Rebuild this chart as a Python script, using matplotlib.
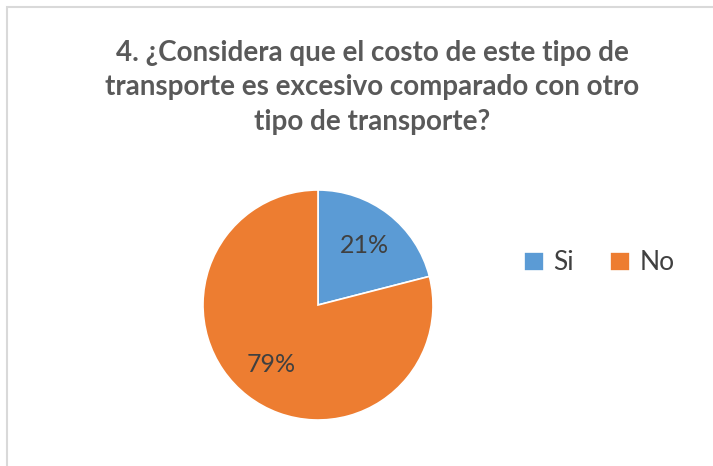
import matplotlib
matplotlib.use("Agg")
import matplotlib.pyplot as plt
from matplotlib.patches import Rectangle

# datos de la encuesta
categorias = ["Si", "No"]
porcentajes = [21, 79]
colores = ["#5B9BD5", "#ED7D31"]
titulo = "4. ¿Considera que el costo de este tipo de\ntransporte es excesivo comparado con otro\ntipo de transporte?"

W, H = 713, 466
fig = plt.figure(figsize=(W / 100, H / 100), dpi=100)
plt.rcParams['font.family'] = ['Lato', 'DejaVu Sans']

# marco gris del grafico
fig.patches.append(Rectangle((7 / W, -0.1), 1.2, (H - 7) / H + 0.1, transform=fig.transFigure,
                             facecolor="white", edgecolor="#D9D9D9", linewidth=1.5, zorder=-5))

cx, cy, r = 318, 305, 115
ax = fig.add_axes([(cx - r) / W, (H - cy - r) / H, 2 * r / W, 2 * r / H])
wedges, textos, pcts = ax.pie(porcentajes, colors=colores, startangle=90, counterclock=False,
                              autopct='%1.0f%%', pctdistance=0.66, radius=1,
                              wedgeprops=dict(edgecolor="white", linewidth=1.2),
                              textprops=dict(fontsize=18, color="#404040"))
ax.set_xlim(-1, 1)
ax.set_ylim(-1, 1)
ax.set_aspect('equal')
ax.axis('off')

fig.text(372 / W, 1 - 40 / H, titulo, ha='center', va='top', fontsize=20, fontweight='bold',
         color="#595959", linespacing=1.4)

fig.legend(wedges, categorias, loc='center left', bbox_to_anchor=(500 / W, 1 - 263 / H),
           ncol=2, frameon=False, fontsize=19, labelcolor="#404040",
           handlelength=0.75, handleheight=0.75, handletextpad=0.35, columnspacing=1.4)

fig.savefig("out.png", dpi=100)
